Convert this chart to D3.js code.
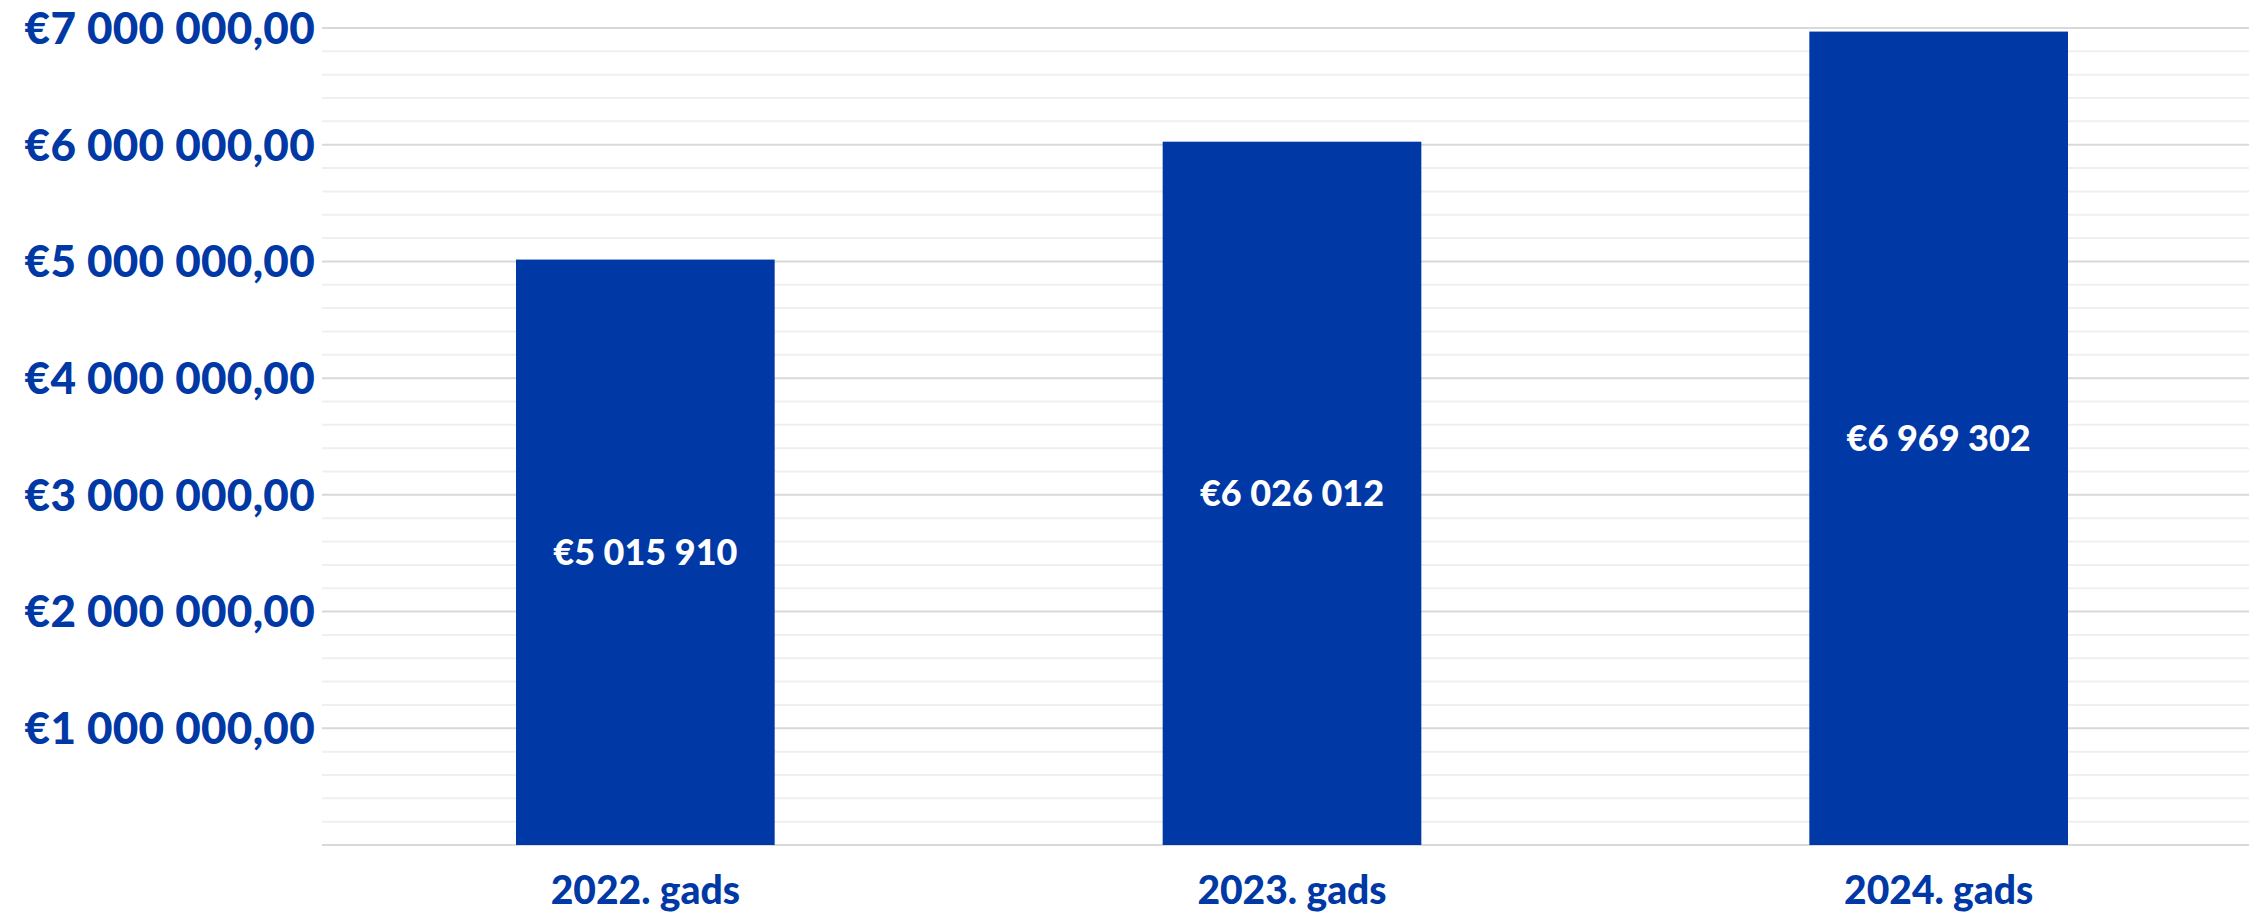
<!DOCTYPE html>
<html>
<head>
<meta charset="utf-8">
<script src="https://cdn.jsdelivr.net/npm/d3@7/dist/d3.min.js"></script>
<style>
  html, body { margin: 0; padding: 0; background: #ffffff; }
  svg { display: block; }
</style>
</head>
<body>
<div id="chart"></div>
<script>
const years = ["2022. gads", "2023. gads", "2024. gads"]
const amounts = [5015910, 6026012, 6969302]
const majorTicks = [0, 1000000, 2000000, 3000000, 4000000, 5000000, 6000000, 7000000]

const width = 2249
const height = 916
const blue = "#0038a5"
const font = "Lato, 'Open Sans', sans-serif"

const locale = d3.formatLocale({
  decimal: ",",
  thousands: " ",
  grouping: [3],
  currency: ["€", ""]
})
const axisFormat = locale.format("$,.2f")
const barFormat = locale.format("$,.0f")

const x = d3.scaleBand()
  .domain(years)
  .range([322, 2262])
  .paddingInner(0.6)
  .paddingOuter(0.3)

const y = d3.scaleLinear()
  .domain([0, 7000000])
  .range([845, 28])

const svg = d3.select("#chart")
  .append("svg")
  .attr("width", width)
  .attr("height", height)

// minor gridlines every 200k
const minorTicks = d3.range(0, 7000001, 200000).filter(v => v % 1000000 !== 0)

svg.append("g")
  .selectAll("line")
  .data(minorTicks)
  .join("line")
  .attr("x1", 322)
  .attr("x2", width)
  .attr("y1", d => y(d))
  .attr("y2", d => y(d))
  .attr("stroke", "#efefef")
  .attr("stroke-width", 2)

svg.append("g")
  .selectAll("line")
  .data(majorTicks)
  .join("line")
  .attr("x1", 322)
  .attr("x2", width)
  .attr("y1", d => y(d))
  .attr("y2", d => y(d))
  .attr("stroke", "#d9d9d9")
  .attr("stroke-width", 2)

// y labels (no label at 0)
svg.append("g")
  .selectAll("text")
  .data(majorTicks.filter(d => d > 0))
  .join("text")
  .attr("x", 315)
  .attr("y", d => y(d))
  .attr("dy", "0.36em")
  .attr("text-anchor", "end")
  .attr("fill", blue)
  .style("font-family", font)
  .style("font-weight", 900)
  .style("font-size", "44px")
  .style("letter-spacing", "0.3px")
  .text(d => axisFormat(d))

const data = years.map((d, i) => ({ year: d, value: amounts[i] }))

svg.append("g")
  .selectAll("rect")
  .data(data)
  .join("rect")
  .attr("x", d => x(d.year))
  .attr("y", d => y(d.value))
  .attr("width", x.bandwidth())
  .attr("height", d => y(0) - y(d.value))
  .attr("fill", blue)

svg.append("g")
  .selectAll("text")
  .data(data)
  .join("text")
  .attr("x", d => x(d.year) + x.bandwidth() / 2)
  .attr("y", d => (y(d.value) + y(0)) / 2)
  .attr("dy", "0.36em")
  .attr("text-anchor", "middle")
  .attr("fill", "#ffffff")
  .style("font-family", font)
  .style("font-weight", 900)
  .style("font-size", "36px")
  .text(d => barFormat(d.value))

// x labels
svg.append("g")
  .selectAll("text")
  .data(years)
  .join("text")
  .attr("x", d => x(d) + x.bandwidth() / 2)
  .attr("y", 904)
  .attr("text-anchor", "middle")
  .attr("fill", blue)
  .style("font-family", font)
  .style("font-weight", 900)
  .style("font-size", "39px")
  .text(d => d)
</script>
</body>
</html>
